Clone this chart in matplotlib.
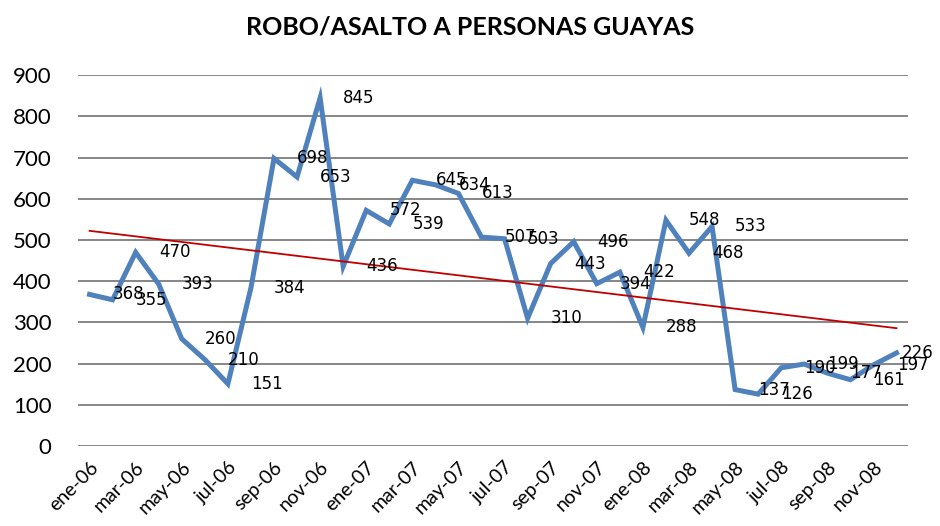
import numpy as np
import matplotlib
matplotlib.use("Agg")
import matplotlib.pyplot as plt

months = ["ene", "feb", "mar", "abr", "may", "jun",
          "jul", "ago", "sep", "oct", "nov", "dic"]
years = ["06", "07", "08"]
categories = [f"{m}-{y}" for y in years for m in months]

robos = [368, 355, 470, 393, 260, 210, 151, 384, 698, 653, 845, 436,
         572, 539, 645, 634, 613, 507, 503, 310, 443, 496, 394, 422,
         288, 548, 468, 533, 137, 126, 190, 199, 177, 161, 197, 226]

x = np.arange(len(robos))

fig = plt.figure(figsize=(9.4, 5.26), dpi=100)
ax = fig.add_axes([0.083, 0.152, 0.883, 0.705])

ax.plot(x, robos, color="#4F81BD", linewidth=3.6, solid_joinstyle="miter", zorder=3)

# linear trend line
k, b = np.polyfit(x, robos, 1)
ax.plot(x, k * x + b, color="#C00000", linewidth=1.3, zorder=4)

for i, v in enumerate(robos):
    dx = 39 if i < len(robos) - 1 else 21   # last label kept inside the chart
    ax.annotate(str(v), (x[i], v), xytext=(dx, 0), textcoords="offset pixels",
                ha="center", va="center", fontsize=12, family="DejaVu Sans",
                color="black", zorder=5, annotation_clip=False)

ax.set_xlim(-0.5, len(robos) - 0.5)
ax.set_ylim(0, 900)
ax.set_yticks(range(0, 901, 100))
ax.set_yticklabels([str(t) for t in range(0, 901, 100)], fontsize=16, family="Lato")
ax.set_xticks(x[::2])
ax.set_xticklabels(categories[::2], rotation=45, ha="right", rotation_mode="anchor",
                   fontsize=14, family="Lato")
ax.tick_params(axis="y", length=0, pad=19)
ax.tick_params(axis="x", length=0, pad=9)

ax.grid(axis="y", color="#868686", linewidth=1.4)
ax.set_axisbelow(True)
for s in ax.spines.values():
    s.set_visible(False)

fig.text(0.5, 0.949, "ROBO/ASALTO A PERSONAS GUAYAS", ha="center", va="center",
         fontsize=18, fontweight="bold", family="Lato")

fig.savefig("out.png", dpi=100)
